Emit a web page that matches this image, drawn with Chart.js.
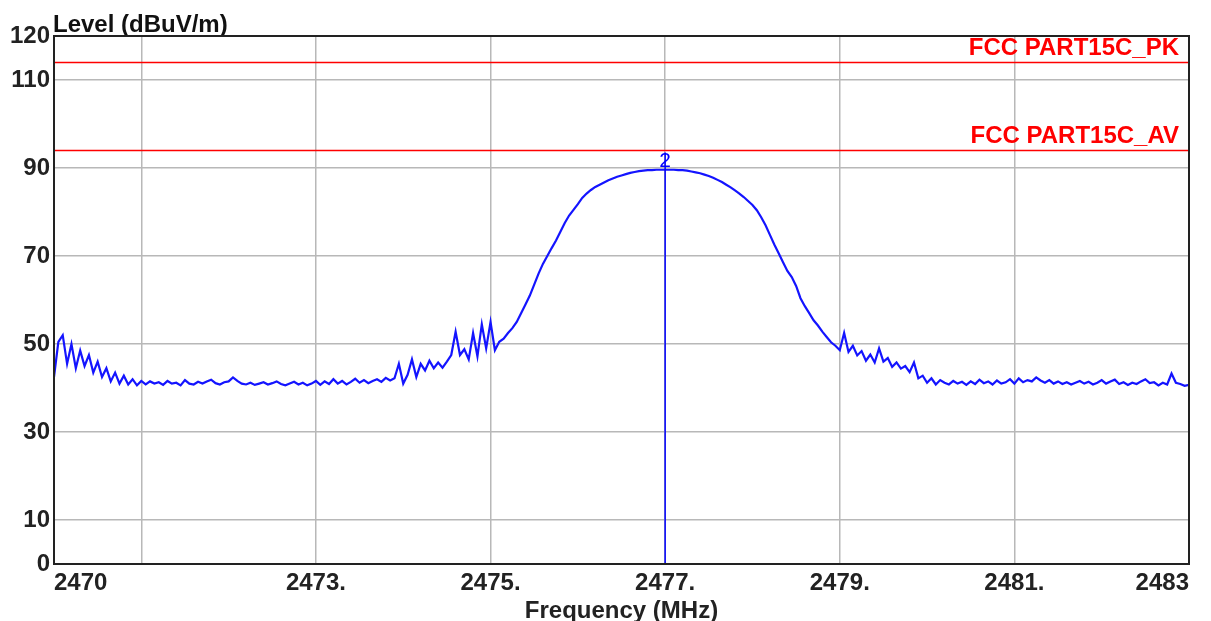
<!DOCTYPE html>
<html><head><meta charset="utf-8">
<script src="https://cdn.jsdelivr.net/npm/chart.js@4.4.1/dist/chart.umd.min.js"></script>
<style>html,body{margin:0;padding:0;background:#fff}#wrap{width:1211px;height:621px;position:relative}</style>
</head><body><div id="wrap"><canvas id="c"></canvas></div>
<script>
const startFreq = 2470;
const stepMHz = 0.05;
const level = [
  42.5, 50.5, 52, 45.5, 50, 44.5, 48.5, 45, 47.5, 43.5, 46, 42.5, 44.5, 41.5, 43.5, 41, 42.8, 40.8, 42, 40.6,
  41.6, 40.8, 41.5, 41, 41.3, 40.7, 41.6, 41, 41.2, 40.6, 41.8, 41, 40.8, 41.4, 41, 41.5, 41.9, 41.1, 40.8, 41.3,
  41.5, 42.4, 41.6, 41, 40.8, 41.2, 40.7, 41, 41.3, 40.8, 41.1, 41.5, 40.9, 40.6, 41, 41.4, 40.8, 41.2, 40.6, 41,
  41.6, 40.7, 41.5, 40.9, 42, 41, 41.6, 40.8, 41.4, 42.1, 41.2, 41.8, 41.1, 41.6, 42, 41.4, 42.3, 41.7, 42.2, 45.5,
  41, 43, 46.5, 42.5, 45.5, 44, 46.2, 44.5, 45.8, 44.6, 46, 47.5, 52.8, 47.5, 48.8, 46.5, 52.5, 47.2, 54.5, 49,
  55, 48.6, 50.5, 51.2, 52.5, 53.6, 55, 57, 59, 61, 63.5, 66, 68.2, 70, 71.8, 73.5, 75.5, 77.5, 79.2, 80.5,
  81.8, 83.2, 84.2, 85, 85.7, 86.2, 86.7, 87.2, 87.6, 88, 88.3, 88.6, 88.9, 89.1, 89.3, 89.4, 89.5, 89.5, 89.6, 89.6,
  89.6, 89.6, 89.6, 89.5, 89.5, 89.4, 89.2, 89, 88.8, 88.5, 88.2, 87.8, 87.3, 86.8, 86.2, 85.6, 84.9, 84.2, 83.4, 82.5,
  81.6, 80.4, 78.8, 77, 74.8, 72.6, 70.6, 68.6, 66.6, 65.2, 63.2, 60.4, 58.6, 57, 55.4, 54.2, 52.8, 51.6, 50.4, 49.6,
  48.6, 52.5, 48.2, 49.6, 47.4, 48.4, 46.2, 47.6, 45.8, 49, 46, 46.8, 44.8, 45.8, 44.4, 45, 43.6, 45.8, 42.2, 42.8,
  41.2, 42.2, 40.8, 41.8, 41.2, 40.8, 41.6, 41, 41.4, 40.7, 41.5, 40.9, 41.9, 41.1, 41.5, 40.8, 41.7, 41, 41.3, 42,
  41, 42.2, 41.3, 41.8, 41.5, 42.4, 41.7, 41.2, 41.8, 41, 41.5, 40.9, 41.3, 40.8, 41.2, 41.6, 41, 41.4, 40.8, 41.2,
  41.8, 41, 41.5, 41.9, 40.9, 41.3, 40.7, 41.2, 40.9, 41.5, 42, 41.1, 41.3, 40.6, 41.2, 40.8, 43.3, 41.2, 40.9, 40.5,
  40.7
];
const xTickValues = [2470, 2471, 2473, 2475, 2477, 2479, 2481, 2483];
const xTickLabels = ['2470', '', '2473.', '2475.', '2477.', '2479.', '2481.', '2483'];
const yTickValues = [0, 10, 30, 50, 70, 90, 110, 120];
const limitValues = [114, 94];
const limitNames = ['FCC PART15C_PK', 'FCC PART15C_AV'];
const markerFreq = 2477;
const markerTop = 93.5;
const markerLabel = '2';

const FONT = "'Liberation Sans', Arial, sans-serif";
const FS = 24;
const tracePoints = level.map((v, i) => ({ x: +(startFreq + i * stepMHz).toFixed(3), y: v }));
const xMin = xTickValues[0], xMax = xTickValues[xTickValues.length - 1];

const decor = {
  id: 'decor',
  beforeDraw(chart) {
    const c = chart.ctx;
    c.save(); c.fillStyle = '#fff'; c.fillRect(0, 0, chart.width, chart.height); c.restore();
  },
  afterDatasetsDraw(chart) {
    const c = chart.ctx, a = chart.chartArea, ys = chart.scales.y, xs = chart.scales.x;
    c.save();
    c.fillStyle = '#ff0000';
    c.font = 'bold ' + FS + 'px ' + FONT;
    c.textAlign = 'right'; c.textBaseline = 'alphabetic';
    limitValues.forEach((v, i) => c.fillText(limitNames[i], a.right - 10, ys.getPixelForValue(v) - 7));
    c.fillStyle = '#0000ff';
    c.font = '21px ' + FONT;
    c.textAlign = 'center'; c.textBaseline = 'top';
    c.fillText(markerLabel, xs.getPixelForValue(markerFreq), ys.getPixelForValue(markerTop) - 2);
    c.fillStyle = '#111';
    c.font = 'bold ' + FS + 'px ' + FONT;
    c.textAlign = 'left'; c.textBaseline = 'alphabetic';
    c.fillText('Level (dBuV/m)', a.left - 1, 32);
    c.strokeStyle = '#222'; c.lineWidth = 2;
    c.strokeRect(a.left, a.top, a.right - a.left, a.bottom - a.top);
    c.restore();
  }
};

new Chart(document.getElementById('c'), {
  type: 'line',
  data: {
    datasets: [
      { label: 'trace', data: tracePoints, borderColor: '#1414ff', borderWidth: 2.2, pointRadius: 0, tension: 0, order: 3 },
      { label: 'PK', data: [{ x: xMin, y: limitValues[0] }, { x: xMax, y: limitValues[0] }], borderColor: '#ff0000', borderWidth: 1.5, pointRadius: 0, order: 2 },
      { label: 'AV', data: [{ x: xMin, y: limitValues[1] }, { x: xMax, y: limitValues[1] }], borderColor: '#ff0000', borderWidth: 1.5, pointRadius: 0, order: 2 },
      { label: 'marker', data: [{ x: markerFreq, y: 0 }, { x: markerFreq, y: markerTop }], borderColor: '#0000ff', borderWidth: 1.5, pointRadius: 0, order: 1 }
    ]
  },
  options: {
    responsive: true, maintainAspectRatio: false, animation: false,
    layout: { padding: { top: 36, right: 22, left: 0, bottom: 0 } },
    plugins: { legend: { display: false }, tooltip: { enabled: false }, title: { display: false } },
    scales: {
      x: {
        type: 'linear', min: xMin, max: xMax,
        afterBuildTicks: s => { s.ticks = xTickValues.map(v => ({ value: v })); },
        afterFit: s => { s.height = 57; },
        ticks: {
          autoSkip: false, maxRotation: 0, align: 'inner', padding: 5, color: '#222',
          font: { family: FONT, size: FS, weight: 'bold' },
          callback: (v) => { const i = xTickValues.indexOf(v); return i >= 0 ? xTickLabels[i] : ''; }
        },
        grid: { drawTicks: false, lineWidth: 1.5, color: ctx => (ctx.tick && (ctx.tick.value === xMin || ctx.tick.value === xMax)) ? 'rgba(0,0,0,0)' : '#b8b8b8' },
        border: { display: false },
        title: { display: true, text: 'Frequency (MHz)', color: '#222', font: { family: FONT, size: FS, weight: 'bold' }, padding: { top: 0, bottom: -5 } }
      },
      y: {
        min: 0, max: 120,
        afterBuildTicks: s => { s.ticks = yTickValues.map(v => ({ value: v })); },
        afterFit: s => { s.width = 54; },
        ticks: { autoSkip: false, padding: 4, color: '#222', font: { family: FONT, size: FS, weight: 'bold' } },
        grid: { drawTicks: false, lineWidth: 1.5, color: ctx => (ctx.tick && (ctx.tick.value === 0 || ctx.tick.value === 120)) ? 'rgba(0,0,0,0)' : '#b8b8b8' },
        border: { display: false }
      }
    }
  },
  plugins: [decor]
});
</script></body></html>
